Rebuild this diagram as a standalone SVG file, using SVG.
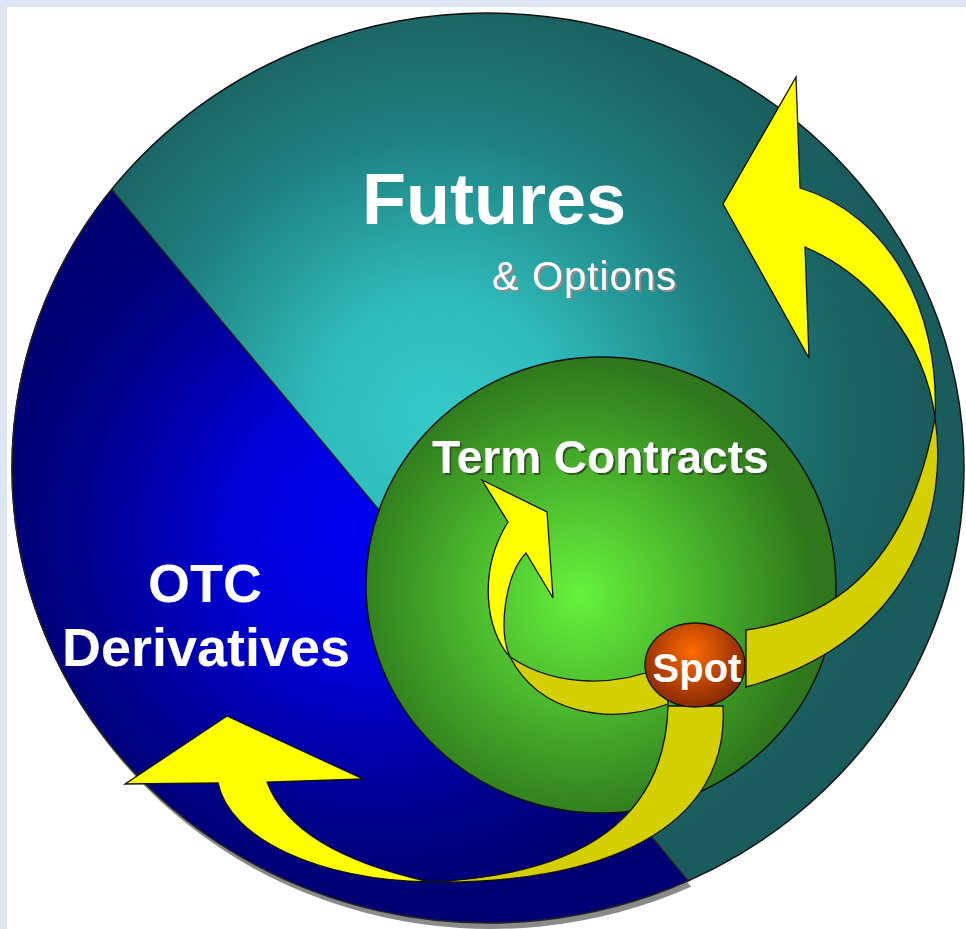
<svg xmlns="http://www.w3.org/2000/svg" width="966" height="929" viewBox="0 0 966 929">
<defs>
<radialGradient id="gTeal" gradientUnits="userSpaceOnUse" cx="440" cy="420" r="480">
<stop offset="0" stop-color="#34C9C9"/>
<stop offset="0.25" stop-color="#30BCBC"/>
<stop offset="0.6" stop-color="#1F8080"/>
<stop offset="0.85" stop-color="#1B6464"/>
<stop offset="1" stop-color="#1A5C5C"/>
</radialGradient>
<radialGradient id="gBlue" gradientUnits="userSpaceOnUse" cx="370" cy="530" r="370">
<stop offset="0" stop-color="#0000F2"/>
<stop offset="0.35" stop-color="#0000DA"/>
<stop offset="0.8" stop-color="#000088"/>
<stop offset="1" stop-color="#000074"/>
</radialGradient>
<radialGradient id="gGreen" gradientUnits="userSpaceOnUse" cx="580" cy="595" r="235">
<stop offset="0" stop-color="#66F23C"/>
<stop offset="0.5" stop-color="#4AB52C"/>
<stop offset="1" stop-color="#2E771C"/>
</radialGradient>
<radialGradient id="gSpot" gradientUnits="userSpaceOnUse" cx="692" cy="652" r="55">
<stop offset="0" stop-color="#FF6A00"/>
<stop offset="1" stop-color="#8A2A05"/>
</radialGradient>
<filter id="shGray" x="-10%" y="-20%" width="120%" height="150%">
<feFlood flood-color="#8A8A8A"/>
<feComposite in2="SourceAlpha" operator="in"/>
<feOffset dx="2" dy="2" result="s"/>
<feMerge><feMergeNode in="s"/><feMergeNode in="SourceGraphic"/></feMerge>
</filter>
<filter id="shDark" x="-10%" y="-20%" width="120%" height="150%">
<feFlood flood-color="#2E5A22"/>
<feComposite in2="SourceAlpha" operator="in"/>
<feOffset dx="2" dy="2" result="s"/>
<feMerge><feMergeNode in="s"/><feMergeNode in="SourceGraphic"/></feMerge>
</filter>
</defs>
<style>
.lbl{font-family:"Liberation Sans",Arial,sans-serif;font-weight:bold;fill:#FFFFFF}
.bright{fill:#FFFF00;stroke:#111;stroke-width:1.3;stroke-linejoin:miter}
.dark{fill:#D4CF00;stroke:#111;stroke-width:1.3}
</style>
<rect x="0" y="0" width="966" height="929" fill="#DCE6F5"/>
<rect x="7" y="7" width="959" height="922" fill="#FFFFFF"/>
<g id="futures">
<ellipse cx="488" cy="468" rx="476" ry="455" fill="url(#gTeal)" stroke="#111" stroke-width="1.5"/>
<text class="lbl" x="362" y="224" font-size="72">Futures</text>
<text x="492" y="290" font-size="40" textLength="184" font-family="Liberation Sans,Arial,sans-serif" fill="#FFFFFF" filter="url(#shGray)">&amp; Options</text>
</g>
<g id="otc">
<path d="M111.7 189.4 A476 455 0 0 0 688.2 880.8 Z" transform="translate(3,6)" fill="#8A8A8A"/>
<path d="M111.7 189.4 A476 455 0 0 0 688.2 880.8 Z" fill="url(#gBlue)" stroke="#222" stroke-width="1.5"/>
<text class="lbl" x="205" y="602" font-size="54" text-anchor="middle">OTC</text>
<text class="lbl" x="206" y="666" font-size="54" text-anchor="middle">Derivatives</text>
</g>
<g id="term">
<ellipse cx="601" cy="585" rx="235" ry="228" fill="url(#gGreen)" stroke="#111" stroke-width="1.5"/>
<text class="lbl" x="432" y="473" font-size="46" filter="url(#shDark)">Term Contracts</text>
</g>
<g id="connectors">
<path class="dark" d="M935 418 C948 500 920 640 746 687 L746 630 C820 620 905 580 935 418 Z"/>
<path class="bright" d="M935 418 C925 340 870 275 805 247 L809 358 L723 204 L796 77 L800 188 C890 215 940 310 935 418 Z"/>
<path class="dark" d="M510 657 C560 690 620 685 665 666 L668 704 C610 725 540 715 510 657 Z"/>
<path class="bright" d="M482 480 L547 512 L553 598 L526 553 C505 575 498 630 510 657 C485 630 478 570 508 522 Z"/>
<path class="dark" d="M430 882 C600 885 730 830 723 706 L668 706 C665 820 580 875 430 882 Z"/>
<path class="bright" d="M125 784 L227 716 L363 779 L267 782 C285 830 340 862 430 882 C320 880 230 840 218 783 Z"/>
</g>
<g id="spot">
<ellipse cx="695" cy="665" rx="50" ry="42" fill="url(#gSpot)" stroke="#111" stroke-width="1.3"/>
<text class="lbl" x="697" y="682" font-size="40" text-anchor="middle">Spot</text>
</g>
</svg>
